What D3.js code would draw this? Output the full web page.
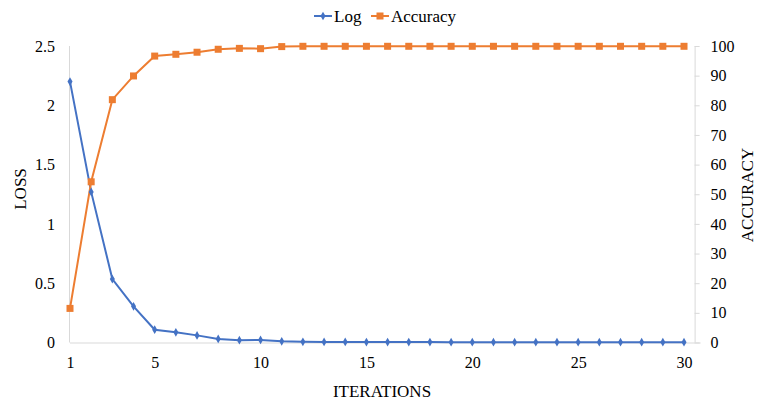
<!DOCTYPE html>
<html>
<head>
<meta charset="utf-8">
<script src="https://cdn.jsdelivr.net/npm/d3@7"></script>
<style>
  body { margin: 0; background: #fff; }
  svg text { font-family: 'Liberation Serif', 'Times New Roman', serif !important; fill: #000; }
</style>
</head>
<body>
<svg width="757" height="401"></svg>
<script>
var iterations = d3.range(1, 31);
var logLoss = [2.2, 1.27, 0.535, 0.305, 0.108, 0.086, 0.06, 0.03, 0.02, 0.022,
  0.01, 0.006, 0.005, 0.005, 0.004, 0.004, 0.004, 0.004, 0.003, 0.003,
  0.003, 0.003, 0.003, 0.003, 0.003, 0.003, 0.003, 0.003, 0.003, 0.003];
var accuracy = [11.5, 54.2, 81.9, 89.9, 96.6, 97.2, 97.9, 98.9, 99.2, 99.1,
  99.8, 99.9, 99.9, 99.9, 99.9, 99.9, 99.9, 99.9, 99.9, 99.9,
  99.9, 99.9, 99.9, 99.9, 99.9, 99.9, 99.9, 99.9, 99.9, 99.9];
var xTicks = [1, 5, 10, 15, 20, 25, 30];
var lossTicks = [0, 0.5, 1, 1.5, 2, 2.5];
var accTicks = d3.range(0, 101, 10);

var svg = d3.select("svg"),
    plotLeft = 70, plotRight = 694.6, plotTop = 46, plotBottom = 342.5;

var blue = "#4472C4", orange = "#ED7D31", axisCol = "#D9D9D9";

var x = d3.scaleLinear().domain([1, 30.5]).range([plotLeft, plotRight]);
var yL = d3.scaleLinear().domain([0, 2.5]).range([plotBottom, plotTop]);
var yR = d3.scaleLinear().domain([0, 100]).range([plotBottom, plotTop]);

function plain(d) { return String(d); }

// axes
var gx = svg.append("g").attr("transform", "translate(0," + plotBottom + ")")
  .call(d3.axisBottom(x).tickValues(xTicks).tickFormat(plain).tickSize(0).tickPadding(14));
gx.select(".domain").attr("stroke", axisCol).attr("d", "M" + plotLeft + ",0.5H" + (plotRight + 6));

var gl = svg.append("g").attr("transform", "translate(" + plotLeft + ",0)")
  .call(d3.axisLeft(yL).tickValues(lossTicks).tickFormat(plain).tickSize(0).tickPadding(15));
gl.select(".domain").attr("stroke", axisCol).attr("d", "M-0.5," + plotTop + "V" + plotBottom);

var gr = svg.append("g").attr("transform", "translate(" + plotRight + ",0)")
  .call(d3.axisRight(yR).tickValues(accTicks).tickFormat(plain).tickSize(5).tickPadding(11));
gr.select(".domain").attr("stroke", axisCol).attr("d", "M0.5," + plotTop + "V" + plotBottom);
gr.selectAll(".tick line").attr("stroke", axisCol);

svg.selectAll("g").attr("font-family", null);
svg.selectAll(".tick text").style("font-size", "16px");

// titles
svg.append("text").attr("x", 382).attr("y", 397).attr("text-anchor", "middle")
  .style("font-size", "17px").text("ITERATIONS");
svg.append("text").attr("transform", "translate(26,189) rotate(-90)").attr("text-anchor", "middle")
  .style("font-size", "17px").text("LOSS");
svg.append("text").attr("transform", "translate(753,195) rotate(-90)").attr("text-anchor", "middle")
  .style("font-size", "17px").text("ACCURACY");

// lines
var lossLine = d3.line().x(function(d, i) { return x(iterations[i]); }).y(function(d) { return yL(d); });
var accLine = d3.line().x(function(d, i) { return x(iterations[i]); }).y(function(d) { return yR(d); });

svg.append("path").datum(logLoss).attr("d", lossLine)
  .attr("fill", "none").attr("stroke", blue).attr("stroke-width", 2);
svg.append("path").datum(accuracy).attr("d", accLine)
  .attr("fill", "none").attr("stroke", orange).attr("stroke-width", 2);

var diamond = d3.symbol().type(d3.symbolDiamond).size(22);
svg.selectAll(".lm").data(logLoss).enter().append("path")
  .attr("transform", function(d, i) { return "translate(" + x(iterations[i]) + "," + yL(d) + ")"; })
  .attr("d", diamond).attr("fill", blue);

svg.selectAll(".am").data(accuracy).enter().append("rect")
  .attr("x", function(d, i) { return x(iterations[i]) - 3.5; })
  .attr("y", function(d) { return yR(d) - 3.5; })
  .attr("width", 7).attr("height", 7).attr("fill", orange);

// legend
var legend = [{name: "Log", col: blue, x: 314}, {name: "Accuracy", col: orange, x: 371}];
var lg = svg.selectAll(".lg").data(legend).enter().append("g")
  .attr("transform", function(d) { return "translate(" + d.x + ",16)"; });
lg.append("line").attr("x1", 0).attr("x2", 18).attr("stroke", function(d) { return d.col; }).attr("stroke-width", 2);
lg.each(function(d) {
  var g = d3.select(this);
  if (d.name == "Log") g.append("path").attr("transform", "translate(9,0)").attr("d", diamond).attr("fill", d.col);
  else g.append("rect").attr("x", 5.5).attr("y", -3.5).attr("width", 7).attr("height", 7).attr("fill", d.col);
});
lg.append("text").attr("x", 20).attr("y", 6).style("font-size", "17px").text(function(d) { return d.name; });
</script>
</body>
</html>
